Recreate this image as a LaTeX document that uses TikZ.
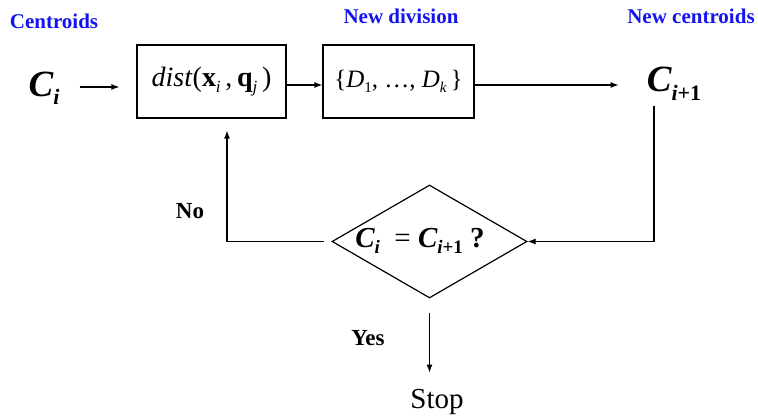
\documentclass[tikz,border=0pt]{standalone}
\usepackage{fontspec}
\setmainfont{Liberation Serif}
\usetikzlibrary{shapes.geometric,arrows.meta}
\definecolor{lblue}{RGB}{20,20,240}
\newcommand{\fs}[1]{\fontsize{#1}{#1}\selectfont}
\newcommand{\lsub}[2]{\raisebox{-#1}{#2}}
\begin{document}
\begin{tikzpicture}[x=1pt,y=-1pt,
  every node/.style={inner sep=0pt},
  box/.style={draw,line width=1.2pt,minimum height=73pt,anchor=center},
  arr/.style={-{Latex[length=8pt,width=6pt]},line width=1.2pt},
  head/.style={text=lblue,font=\fs{21}\bfseries},
  lab/.style={font=\fs{23}\bfseries}]
\useasboundingbox (0,0) rectangle (758,419);
% headings
\node[head] (h1) at (54,21) {Centroids};
\node[head] (h2) at (401,16) {New division};
\node[head] (h3) at (691,16) {New centroids};
% main row
\node (ci) at (44,88) {\fs{37}\bfseries\itshape C\lsub{8pt}{\fs{22}i}};
\node[box,minimum width=149pt] (b1) at (211.5,81.5) {\fs{28}\textit{dist}(\textbf{x}\lsub{6pt}{\fs{17}\itshape i}\,,\,\textbf{q}\lsub{6pt}{\fs{17}\itshape j}\,)};
\node[box,minimum width=151pt] (b2) at (398.5,81.5) {\fs{25}\{\textit{D}\lsub{5pt}{\fs{15}1}, \dots, \textit{D}\lsub{5pt}{\fs{15}\itshape k}\,\}};
\node (cn) at (674,84) {\fs{37}\bfseries\itshape C\lsub{9pt}{\fs{22}\itshape i\upshape +1}};
% decision
\node[diamond,draw,line width=1.2pt,minimum width=195pt,minimum height=113pt] (d) at (429.5,241.5) {};
\node (dt) at (420,241) {\fs{29}\bfseries\itshape C\lsub{6pt}{\fs{19}i}\ \ \mdseries\upshape= \bfseries\itshape C\lsub{6pt}{\fs{19}\itshape i\upshape +1}\ \upshape ?};
\node[lab] (no) at (190,211) {No};
\node[lab] (yes) at (368,338) {Yes};
\node[font=\fs{29}] (stop) at (437,402) {Stop};
% connectors
\coordinate (r1) at (654,241.5);
\coordinate (l1) at (227,241.5);
\draw[arr] ([xshift=20pt]ci.east |- 0,87) -- ([xshift=-17pt]b1.west |- 0,87);
\draw[arr] ([yshift=-3.5pt]b1.east) -- ([yshift=-3.5pt]b2.west);
\draw[arr] ([yshift=-3.5pt]b2.east) -- ([xshift=-28pt]cn.west |- 0,85);
\draw[arr] ([yshift=-5pt]cn.south -| r1) -- (r1) -- (d.east);
\draw[arr] ([xshift=-7pt]d.west) -- (l1) -- ([yshift=-12pt]l1 |- b1.south);
\draw[arr] ([yshift=-14pt]d.south) -- ([yshift=-74pt]d.south);
\end{tikzpicture}
\end{document}
